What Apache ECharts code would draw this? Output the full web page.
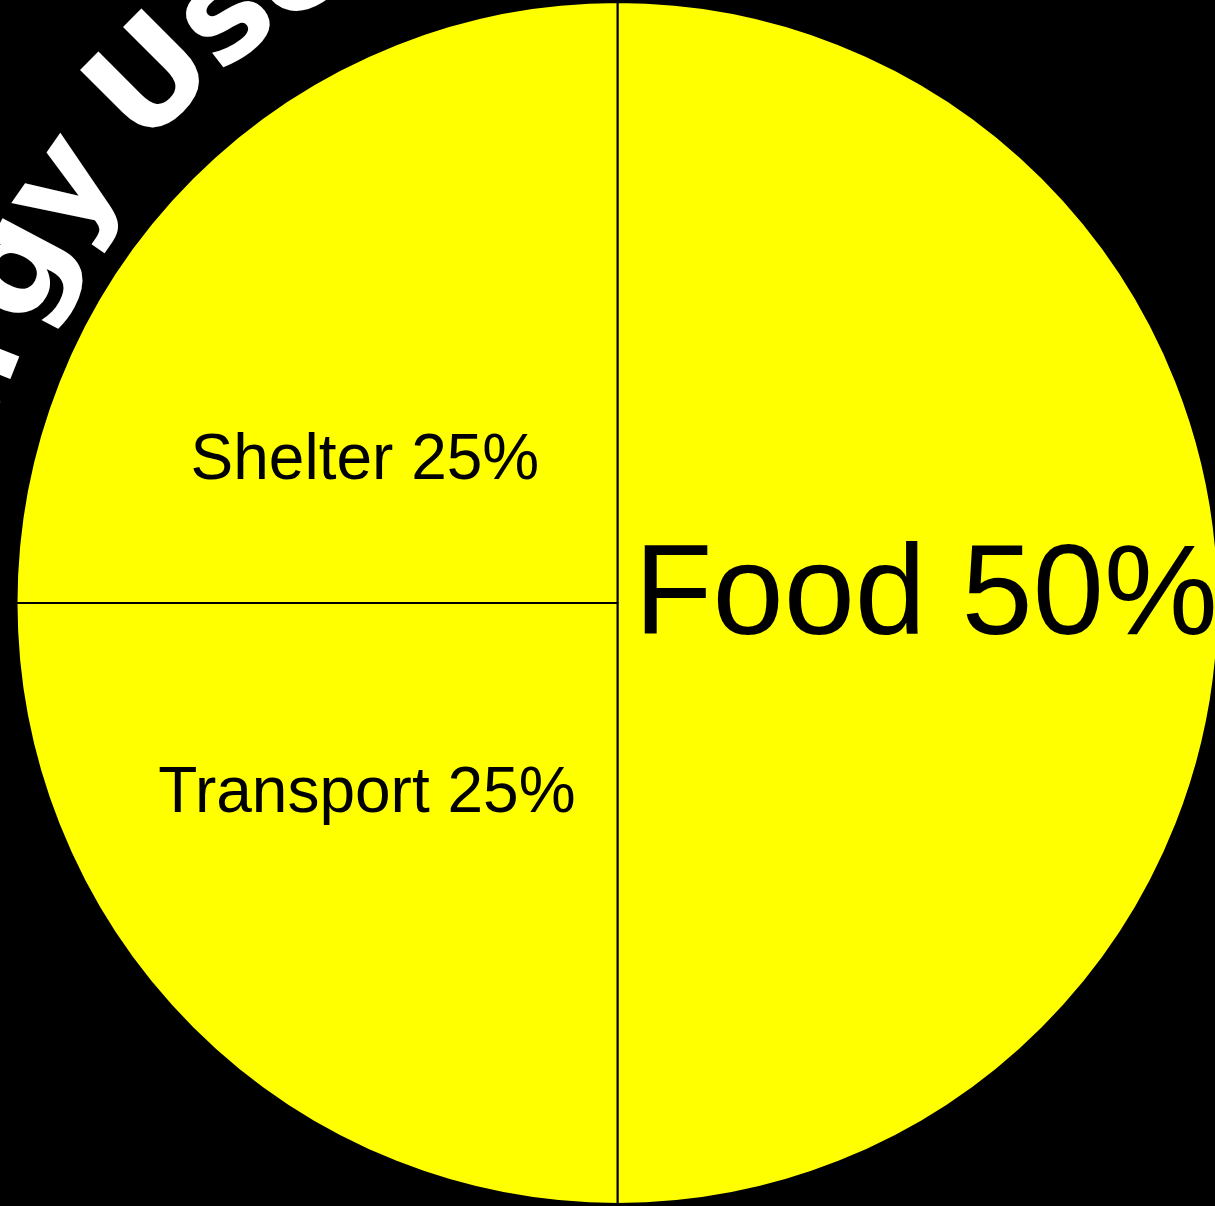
<!DOCTYPE html>
<html><head><meta charset="utf-8">
<script src="https://cdn.jsdelivr.net/npm/echarts@6/dist/echarts.min.js"></script>
<style>html,body{margin:0;padding:0;background:#000;overflow:hidden}#c{width:1215px;height:1206px;}</style>
</head><body><div id="c"></div>
<script>
// ---- data ----
const categories = ['Food', 'Transport', 'Shelter'];
const shares = [50, 25, 25];
const titleText = 'Energy Use';

// ---- layout / style ----
const FONT = '"Liberation Sans", Arial, Helvetica, sans-serif';
const TITLE_FONT = '"DejaVu Sans", sans-serif';
const cx = 617.5, cy = 603, R = 601;
const labelStyles = {
  Food:      { fontSize: 128, offset: [5, -4] },
  Transport: { fontSize: 64,  offset: [-36, -23] },
  Shelter:   { fontSize: 64,  offset: [-38, 73] }
};

const chart = echarts.init(document.getElementById('c'), null, { renderer: 'canvas' });

// curved title along an arc
const tfs = 138;
const tfont = 'bold ' + tfs + 'px ' + TITLE_FONT;
const letterSpacing = -6, spaceAdjust = -8;
const cv = document.createElement('canvas').getContext('2d');
cv.font = tfont;
const chars = titleText.split('');
const widths = chars.map(ch => cv.measureText(ch).width + (ch === ' ' ? spaceAdjust : 0));
const cum = [];
let acc = 0;
chars.forEach((ch, i) => { cum.push(acc); acc += widths[i] + letterSpacing; });
const tcx = 703.5, tcy = 632;   // arc centre of title path
const Rb = 728;                 // baseline radius
const Rm = Rb + 0.33 * tfs;     // text-middle radius
const uIdx = titleText.indexOf('U');
const uCenterDeg = 135;
const theta0 = uCenterDeg * Math.PI / 180 + (cum[uIdx] + widths[uIdx] / 2) / Rb;
const titleGraphics = chars.map((ch, i) => {
  const th = theta0 - (cum[i] + widths[i] / 2) / Rb;
  return {
    type: 'text',
    x: tcx + Rm * Math.cos(th),
    y: tcy - Rm * Math.sin(th),
    rotation: th - Math.PI / 2,
    z: 10,
    silent: true,
    style: { text: ch, font: tfont, fill: '#ffffff', align: 'center', verticalAlign: 'middle' }
  };
});

const data = categories.map((name, i) => {
  const ls = labelStyles[name];
  return {
    name: name,
    value: shares[i],
    label: { fontSize: ls.fontSize, offset: ls.offset }
  };
});

chart.setOption({
  backgroundColor: '#000000',
  animation: false,
  graphic: titleGraphics,
  series: [{
    type: 'pie',
    center: [cx, cy],
    radius: [0, R],
    startAngle: 90,
    clockwise: true,
    silent: true,
    avoidLabelOverlap: false,
    itemStyle: { color: '#ffff00', borderColor: '#000000', borderWidth: 2 },
    label: {
      show: true,
      position: 'inside',
      color: '#000000',
      fontFamily: FONT,
      fontWeight: 'normal',
      formatter: '{b} {c}%'
    },
    labelLine: { show: false },
    emphasis: { disabled: true },
    data: data
  }]
});
</script>
</body></html>
